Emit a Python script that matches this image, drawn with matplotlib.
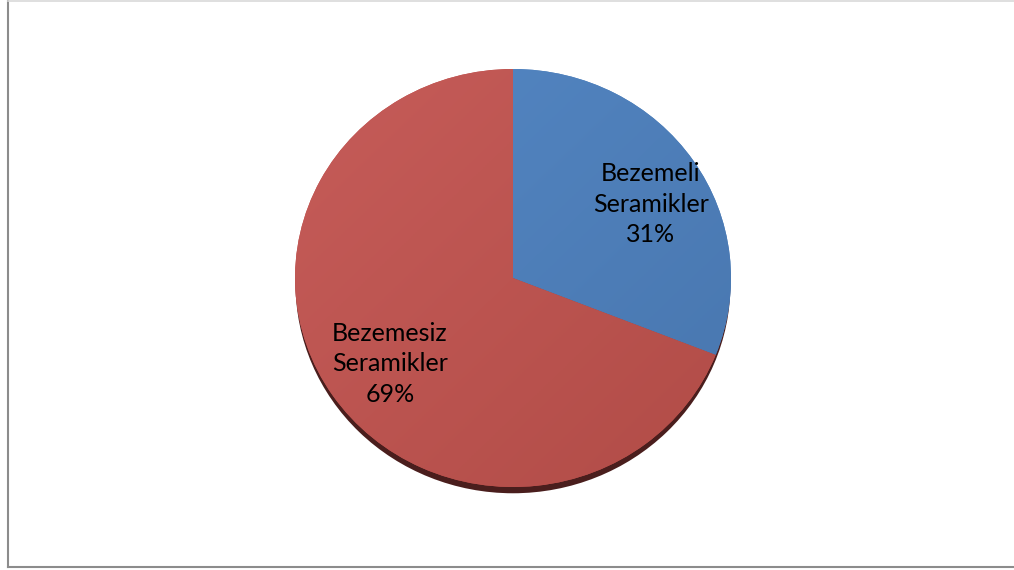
import numpy as np
import matplotlib
matplotlib.use("Agg")
import matplotlib.pyplot as plt
from matplotlib.patches import Ellipse
from matplotlib.lines import Line2D

categories = ["Bezemeli\nSeramikler", "Bezemesiz\nSeramikler"]
values = [31, 69]
colors = ["#4F81BD", "#C0504D"]
light = ["#5487C4", "#C65C59"]
dark = ["#4876AE", "#B14C47"]

W, H = 1014, 570
fig = plt.figure(figsize=(W / 100, H / 100), dpi=100)
fig.patch.set_facecolor("white")

# frame
fig.add_artist(Line2D([8 / W, 8 / W], [1 - 567 / H, 1.0], color="#8c8c8c", lw=1.5))
fig.add_artist(Line2D([8 / W, 1.0], [1 - 567 / H, 1 - 567 / H], color="#8c8c8c", lw=1.5))
fig.add_artist(Line2D([8 / W, 1.0], [1 - 0.7 / H, 1 - 0.7 / H], color="#d9d9d9", lw=1.2))

x0, x1, y0, y1 = 295, 731, 69, 487
ax = fig.add_axes([x0 / W, 1 - y1 / H, (x1 - x0) / W, (y1 - y0) / H])

# shadow
sh = Ellipse((0, -0.03), 1.995, 2.0, facecolor="#4A1E1D", edgecolor="none", zorder=0, clip_on=False)
ax.add_patch(sh)

wedges, _ = ax.pie(values, colors=colors, startangle=90, counterclock=False,
                   wedgeprops=dict(linewidth=0))
ax.set_aspect("auto")
ax.set_xlim(-1, 1)
ax.set_ylim(-1, 1)
ax.axis("off")

# gradient fill clipped to wedges
yy, xx = np.mgrid[1:-1:200j, -1:1:200j]
t = np.clip((xx - yy + 2) / 4, 0, 1)
for w, lc, dc in zip(wedges, light, dark):
    c1 = np.array(matplotlib.colors.to_rgb(lc))
    c2 = np.array(matplotlib.colors.to_rgb(dc))
    img = c1[None, None, :] * (1 - t[..., None]) + c2[None, None, :] * t[..., None]
    im = ax.imshow(img, extent=(-1, 1, -1, 1), aspect="auto", zorder=w.get_zorder() + 0.1)
    im.set_clip_path(w)

labels = [f"{c}\n{v}%" for c, v in zip(categories, values)]
pos = [(0.633, 0.354), (-0.564, -0.411)]
for lab, (px, py) in zip(labels, pos):
    ax.text(px, py, lab, ha="center", va="center", fontsize=18, family="Lato",
            linespacing=1.38, color="black", zorder=10)
ax.set_xlim(-1, 1)
ax.set_ylim(-1, 1)

fig.savefig("out.png", dpi=100, facecolor="white")
